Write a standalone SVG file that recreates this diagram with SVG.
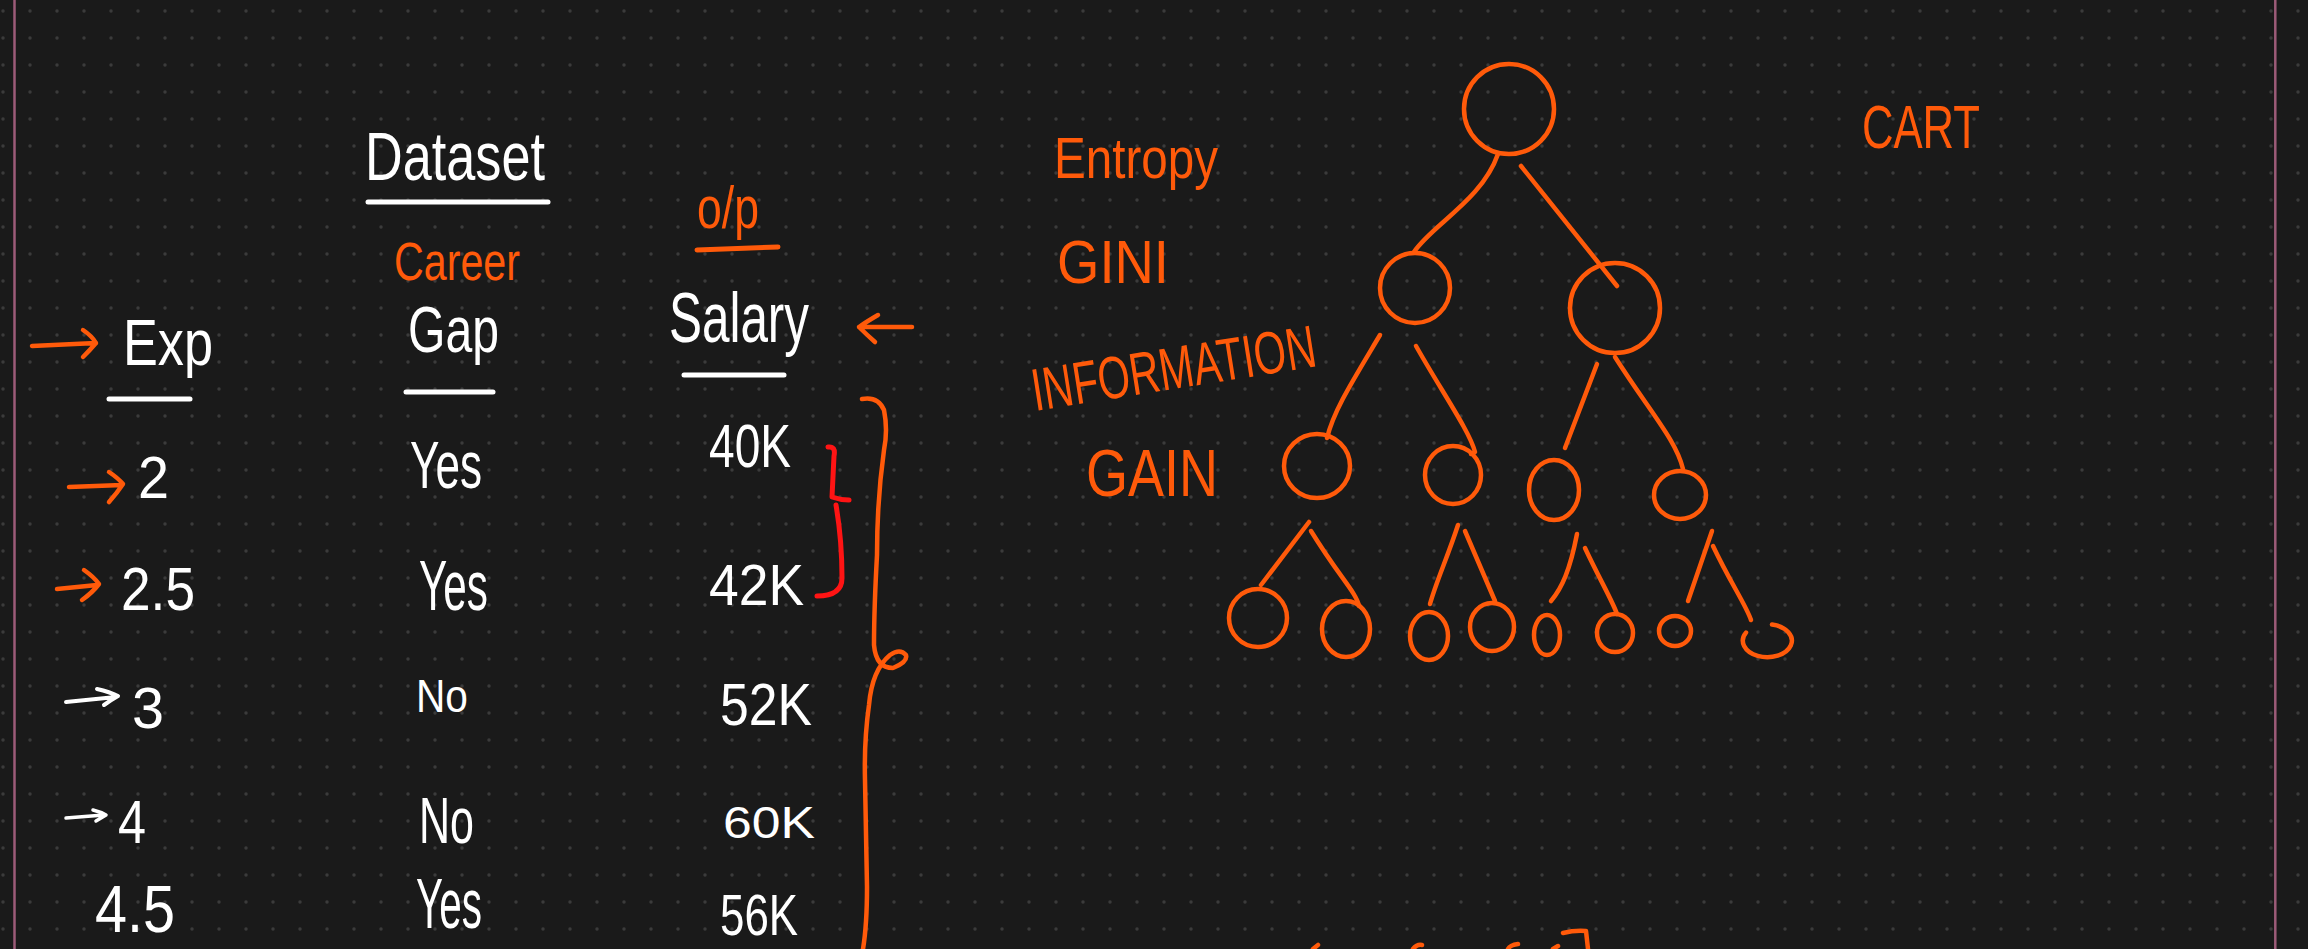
<svg xmlns="http://www.w3.org/2000/svg" width="2308" height="949" viewBox="0 0 2308 949">
<defs>
<pattern id="dots" x="0" y="0" width="27" height="27" patternUnits="userSpaceOnUse">
<circle cx="3" cy="11" r="1.7" fill="#3b3b3b"/>
</pattern>
<style>
.w{fill:#ffffff;font-family:"Liberation Sans",Arial,sans-serif}
.o{fill:#ff5a0a;font-family:"Liberation Sans",Arial,sans-serif}
.ow{fill:none;stroke:#ff5a0a;stroke-width:4.5;stroke-linecap:round;stroke-linejoin:round}
.ws{fill:none;stroke:#ffffff;stroke-width:5;stroke-linecap:round;stroke-linejoin:round}
.rs{fill:none;stroke:#ff1414;stroke-width:5;stroke-linecap:round;stroke-linejoin:round}
.edge{fill:none;stroke:#9c5b78;stroke-width:2.5}
</style>
</defs>
<rect width="2308" height="949" fill="#1a1a1a"/>
<rect width="2308" height="949" fill="url(#dots)"/>
<line class="edge" x1="14.5" y1="0" x2="14.5" y2="949"/>
<line class="edge" x1="2275.3" y1="0" x2="2275.3" y2="949"/>

<g id="dataset-title">
<text class="w" x="365" y="180" font-size="68" textLength="180" lengthAdjust="spacingAndGlyphs">Dataset</text>
<path class="ws" d="M368,202 L548,202"/>
</g>

<g id="col-exp">
<text class="w" x="123" y="365" font-size="64" textLength="90" lengthAdjust="spacingAndGlyphs">Exp</text>
<path class="ws" d="M109,399 L190,399"/>
<path class="ow" d="M32,346 L96,343 M83,330 Q92,336 96,343 Q90,350 83,357"/>
</g>

<g id="col-gap">
<text class="o" x="394" y="280" font-size="54" textLength="126" lengthAdjust="spacingAndGlyphs">Career</text>
<text class="w" x="408" y="352" font-size="64" textLength="91" lengthAdjust="spacingAndGlyphs">Gap</text>
<path class="ws" d="M406,392 L493,392"/>
</g>

<g id="col-salary">
<text class="o" x="697" y="228" font-size="60" textLength="62" lengthAdjust="spacingAndGlyphs">o/p</text>
<path class="ow" d="M697,250 L778,247" style="stroke-width:5"/>
<text class="w" x="669" y="342" font-size="70" textLength="140" lengthAdjust="spacingAndGlyphs">Salary</text>
<path class="ws" d="M684,375 L784,375"/>
<path class="ow" d="M878,315 Q866,322 859,327 Q866,334 875,342 M859,327 L912,327"/>
</g>

<g id="row-1">
<path class="ow" d="M69,487 L122,485 M109,472 Q118,478 123,484 Q117,493 109,502"/>
<text class="w" x="138" y="498" font-size="60" textLength="31" lengthAdjust="spacingAndGlyphs">2</text>
<text class="w" x="410" y="488" font-size="66" textLength="72" lengthAdjust="spacingAndGlyphs">Yes</text>
<text class="w" x="709" y="467" font-size="62" textLength="82" lengthAdjust="spacingAndGlyphs">40K</text>
</g>

<g id="row-2">
<path class="ow" d="M57,589 L97,585 M84,570 Q94,577 99,584 Q92,593 82,600"/>
<text class="w" x="121" y="610" font-size="62" textLength="74" lengthAdjust="spacingAndGlyphs">2.5</text>
<text class="w" x="419" y="610" font-size="70" textLength="69" lengthAdjust="spacingAndGlyphs">Yes</text>
<text class="w" x="709" y="605" font-size="58" textLength="95" lengthAdjust="spacingAndGlyphs">42K</text>
</g>

<g id="row-3">
<path class="ws" d="M66,702 L116,697 M97,689 Q110,692 118,696 Q111,700 104,705" style="stroke-width:4"/>
<text class="w" x="132" y="728" font-size="58" textLength="32" lengthAdjust="spacingAndGlyphs">3</text>
<text class="w" x="416" y="712" font-size="46" textLength="52" lengthAdjust="spacingAndGlyphs">No</text>
<text class="w" x="720" y="725" font-size="60" textLength="92" lengthAdjust="spacingAndGlyphs">52K</text>
</g>

<g id="row-4">
<path class="ws" d="M66,818 L104,815 M93,810 Q101,812 106,815 Q101,818 96,821" style="stroke-width:3.5"/>
<text class="w" x="118" y="843" font-size="62" textLength="28" lengthAdjust="spacingAndGlyphs">4</text>
<text class="w" x="419" y="843" font-size="64" textLength="55" lengthAdjust="spacingAndGlyphs">No</text>
<text class="w" x="723" y="838" font-size="44" textLength="92" lengthAdjust="spacingAndGlyphs">60K</text>
</g>

<g id="row-5">
<text class="w" x="95" y="932" font-size="66" textLength="80" lengthAdjust="spacingAndGlyphs">4.5</text>
<text class="w" x="416" y="928" font-size="70" textLength="66" lengthAdjust="spacingAndGlyphs">Yes</text>
<text class="w" x="720" y="935" font-size="58" textLength="78" lengthAdjust="spacingAndGlyphs">56K</text>
</g>

<g id="brace-red">
<path class="rs" d="M828,447 Q836,446 834,456 L832,497 Q840,500 849,500 M836,505 Q842,540 842,578 Q842,596 817,596"/>
</g>

<g id="brace-orange">
<path class="ow" d="M862,399 Q878,396 884,410 Q888,430 884,450 Q877,500 877,555 Q874,610 874,645 Q876,668 893,668 Q908,662 906,655 Q900,648 890,655 Q872,670 869,705 Q864,740 865,780 Q866,830 867,887 Q867,925 863,949"/>
</g>

<g id="criteria-labels">
<text class="o" x="1054" y="178" font-size="58" textLength="164" lengthAdjust="spacingAndGlyphs">Entropy</text>
<text class="o" x="1057" y="283" font-size="62" textLength="112" lengthAdjust="spacingAndGlyphs">GINI</text>
<text class="o" x="1035" y="411" font-size="60" textLength="287" lengthAdjust="spacingAndGlyphs" transform="rotate(-9 1035 411)">INFORMATION</text>
<text class="o" x="1086" y="496" font-size="66" textLength="132" lengthAdjust="spacingAndGlyphs">GAIN</text>
</g>

<g id="cart-label">
<text class="o" x="1862" y="148" font-size="62" textLength="118" lengthAdjust="spacingAndGlyphs">CART</text>
</g>

<g id="connectors">
<path class="ow" d="M1498,154 C1482,200 1432,225 1414,252"/>
<path class="ow" d="M1521,166 L1617,286"/>
<path class="ow" d="M1380,335 C1352,382 1334,410 1327,438"/>
<path class="ow" d="M1416,346 C1442,392 1470,432 1475,452 L1471,454"/>
<path class="ow" d="M1597,364 L1565,448"/>
<path class="ow" d="M1615,357 C1650,412 1676,440 1683,469"/>
<path class="ow" d="M1309,522 L1261,585"/>
<path class="ow" d="M1311,531 C1340,578 1356,592 1359,606"/>
<path class="ow" d="M1458,525 C1448,556 1436,582 1430,604"/>
<path class="ow" d="M1465,531 L1495,601"/>
<path class="ow" d="M1577,534 C1570,570 1562,588 1551,601"/>
<path class="ow" d="M1585,548 C1600,580 1612,600 1617,614"/>
<path class="ow" d="M1712,531 L1688,601"/>
<path class="ow" d="M1713,546 C1730,582 1746,605 1751,620"/>
</g>

<g id="node-root"><ellipse class="ow" cx="1509" cy="109" rx="45" ry="45"/></g>
<g id="node-l1a"><ellipse class="ow" cx="1415" cy="288" rx="35" ry="35"/></g>
<g id="node-l1b"><ellipse class="ow" cx="1615" cy="308" rx="45" ry="45"/></g>
<g id="node-l2a"><ellipse class="ow" cx="1317" cy="466" rx="33" ry="32"/></g>
<g id="node-l2b"><ellipse class="ow" cx="1453" cy="475" rx="28" ry="29"/></g>
<g id="node-l2c"><ellipse class="ow" cx="1554" cy="490" rx="25" ry="30"/></g>
<g id="node-l2d"><ellipse class="ow" cx="1680" cy="495" rx="26" ry="24"/></g>
<g id="node-l3a"><ellipse class="ow" cx="1258" cy="618" rx="29" ry="29"/></g>
<g id="node-l3b"><ellipse class="ow" cx="1346" cy="629" rx="24" ry="28"/></g>
<g id="node-l3c"><ellipse class="ow" cx="1429" cy="636" rx="19" ry="24"/></g>
<g id="node-l3d"><ellipse class="ow" cx="1492" cy="627" rx="22" ry="24"/></g>
<g id="node-l3e"><ellipse class="ow" cx="1547" cy="635" rx="13" ry="20"/></g>
<g id="node-l3f"><ellipse class="ow" cx="1615" cy="633" rx="18" ry="19"/></g>
<g id="node-l3g"><ellipse class="ow" cx="1675" cy="631" rx="16" ry="15"/></g>
<g id="node-l3h"><path class="ow" d="M1772,624.5 A24.5,16.5 0 1 1 1746,632.6"/></g>

<g id="bottom-fragments">
<path class="ow" d="M1313,949 L1318,945 M1413,949 Q1417,944 1422,945 M1518,944 Q1510,945 1508,949 M1553,949 L1558,946 M1563,933 Q1575,930 1586,931 L1588,949"/>
</g>
</svg>
